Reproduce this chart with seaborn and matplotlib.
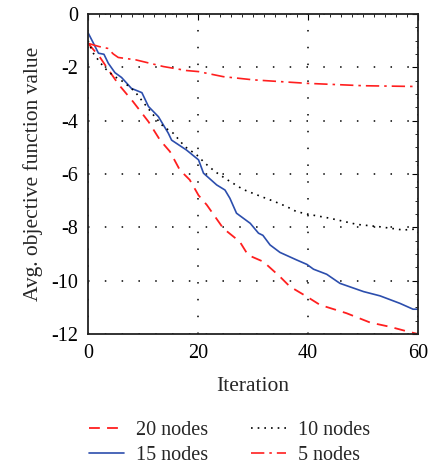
import numpy as np
import pandas as pd
import matplotlib
matplotlib.use("Agg")
import matplotlib.pyplot as plt
import seaborn as sns
from matplotlib.ticker import MultipleLocator

# ---- data ----
x20 = [0, 2.1, 3.3, 5.6, 8.2, 11, 13.1, 14.9, 16.7, 18.5, 20.1, 21.6, 24.6, 27.6, 29.1, 31.9, 34.9, 36.7, 39.8, 42.2, 47, 51.3, 54.9, 58, 60]
y20 = [-1.1, -1.6, -1.97, -2.65, -3.29, -4.04, -4.73, -5.16, -5.85, -6.22, -6.8, -7.16, -8.04, -8.54, -9.04, -9.29, -9.85, -10.22, -10.6, -10.91, -11.22, -11.57, -11.73, -11.9, -12.0]

x15 = [0, 1, 1.9, 2.9, 3.7, 4.9, 6.1, 7.9, 9.8, 11, 12.8, 14.6, 15.2, 17.9, 20.1, 21, 23.4, 24.9, 25.8, 27, 29.5, 31, 31.8, 33.1, 34.9, 37.9, 39.8, 41, 43.4, 45.8, 50.1, 53.1, 56.7, 59.1, 60]
y15 = [-0.7, -1.1, -1.47, -1.51, -1.85, -2.2, -2.38, -2.79, -2.95, -3.47, -3.85, -4.47, -4.73, -5.1, -5.47, -5.97, -6.41, -6.6, -6.91, -7.47, -7.85, -8.22, -8.3, -8.66, -8.94, -9.22, -9.39, -9.57, -9.76, -10.1, -10.41, -10.57, -10.85, -11.07, -11.07]

x10 = [0, 0.85, 2.1, 3.1, 4.5, 6.4, 8.5, 10, 11.9, 13.7, 15.5, 17.6, 19.8, 21.3, 23.1, 25.2, 28.2, 31.3, 34, 36.1, 37.9, 39.8, 44, 48.9, 53.1, 57.3, 60]
y10 = [-1.0, -1.44, -1.79, -2.04, -2.3, -2.54, -2.9, -3.3, -3.79, -4.22, -4.47, -4.97, -5.29, -5.6, -5.91, -6.2, -6.58, -6.83, -7.04, -7.22, -7.41, -7.5, -7.66, -7.89, -7.98, -8.1, -8.06]

x5 = [0, 2, 3.6, 4.6, 5.5, 8.7, 13.7, 17.9, 20.1, 24.6, 30.1, 39.8, 50.1, 60]
y5 = [-1.1, -1.22, -1.29, -1.5, -1.63, -1.72, -1.97, -2.12, -2.16, -2.35, -2.47, -2.6, -2.69, -2.72]

labels = ["20 nodes", "15 nodes", "10 nodes", "5 nodes"]
xticks = [0, 20, 40, 60]
yticks = [0, -2, -4, -6, -8, -10, -12]

# ---- plotting ----
sns.set_style("white")
plt.rcParams["font.family"] = ["Liberation Serif", "DejaVu Serif"]
plt.rcParams["axes.unicode_minus"] = False

fig = plt.figure(figsize=(4.33, 4.66), dpi=100)
ax = fig.add_axes([88/433, 1-334/466, 330/433, 320/466])

red = "#ff1f1f"
blue = "#2c4ead"
styles = [
    (x20, y20, red, (0, (6, 4)), 1.3),
    (x15, y15, blue, "-", 1.2),
    (x10, y10, "black", (0, (1, 3)), 1.2),
    (x5, y5, red, (0, (8, 3, 1.5, 3)), 1.2),
]
for (xs, ys, c, ls, lw), lab in zip(styles, labels):
    sns.lineplot(x=xs, y=ys, ax=ax, color=c, linestyle=ls, linewidth=lw, label=lab)

ax.set_xlim(0, 60)
ax.set_ylim(-12, 0)
ax.set_xticks(xticks)
ax.set_yticks(yticks)
ax.set_yticklabels([str(v) for v in yticks])
ax.xaxis.set_minor_locator(MultipleLocator(2))
ax.yaxis.set_minor_locator(MultipleLocator(0.5))
ax.tick_params(which="both", direction="in", top=True, right=True, colors="black",
               labelsize=14.5)
ax.tick_params(which="major", length=4, width=0.8, pad=7)
ax.tick_params(which="minor", length=2.5, width=0.6)
ax.grid(True, which="major", color="black", linestyle=(0, (1, 10)), linewidth=1.1)
for s in ax.spines.values():
    s.set_color("#222222")
    s.set_linewidth(1.3)

ax.set_xlabel("Iteration", fontsize=15.5, labelpad=10)
ax.set_ylabel("Avg. objective function value", fontsize=15.5, labelpad=6)

h, l = ax.get_legend_handles_labels()
ax.legend_.remove()
fig.legend(h, l, loc="upper left", bbox_to_anchor=(73/433, 1-405/466), ncol=2,
           frameon=False, fontsize=14.5, handlelength=1.75, columnspacing=2.1,
           labelspacing=0.3, handletextpad=0.6, borderpad=0.3)

fig.savefig("out.png", dpi=100)
